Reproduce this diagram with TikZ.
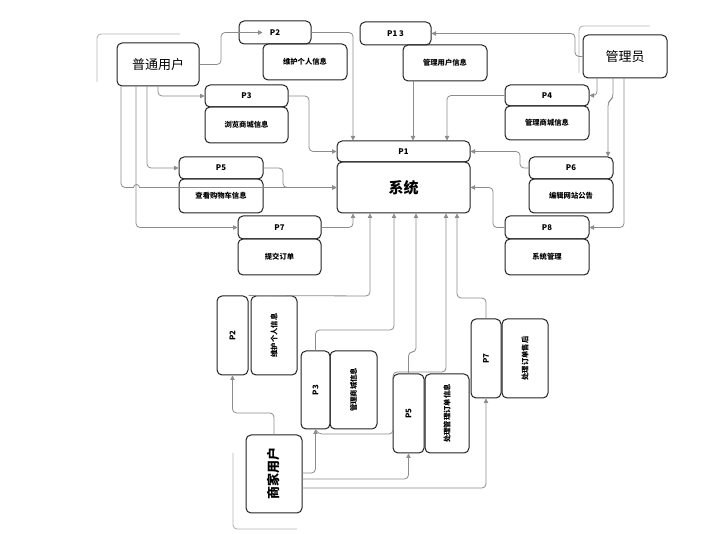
\documentclass[tikz,border=0pt]{standalone}
\usepackage{fontspec}
\setmainfont{Noto Sans CJK SC}
\usetikzlibrary{arrows.meta}
\definecolor{conncol}{HTML}{8C8C8C}
\definecolor{boxcol}{HTML}{222222}
\definecolor{straycol}{HTML}{B4B4B4}
\tikzset{
  box/.style={draw=boxcol, line width=1pt, rounded corners=5pt, inner sep=0pt, align=center},
  hdr/.style={box, font=\bfseries\fontsize{7.8}{9}\selectfont},
  bod/.style={box, font=\bfseries\fontsize{7.3}{9}\selectfont},
  actor/.style={box, font=\fontsize{13}{15}\selectfont},
  conn/.style={draw=conncol, line width=0.8pt, rounded corners=4pt, -{Triangle[length=4.5pt,width=4.5pt]}},
  stray/.style={draw=straycol, line width=0.9pt, rounded corners=4pt},
}
\newcommand{\bx}[7]{\node[#1, minimum width=#5pt, minimum height=#6pt] (#2) at (#3,#4) {#7};}
\begin{document}
\begin{tikzpicture}[x=1pt,y=-1pt]
\useasboundingbox (0,0) rectangle (702,534);
% stray lines
\coordinate (s1a) at (180,34); \coordinate (s1b) at (97,34); \coordinate (s1c) at (97,82);
\coordinate (s2a) at (650,26); \coordinate (s2b) at (579,26); \coordinate (s2c) at (579,73);
\coordinate (s3a) at (233,453); \coordinate (s3b) at (233,529); \coordinate (s3c) at (297,529);
\draw[stray] (s1a) -- (s1b) -- (s1c);
\draw[stray] (s2a) -- (s2b) -- (s2c);
\draw[stray] (s3a) -- (s3b) -- (s3c);
% actors
\bx{actor}{uA}{158}{64.5}{82}{43}{普通用户}
\bx{actor}{admin}{625}{56.5}{84}{43}{管理员}
\node[box, minimum width=56pt, minimum height=78pt, font=\bfseries\fontsize{13}{15}\selectfont] (merch) at (274,474) {\rotatebox{90}{商家用户}};
% top processes
\bx{hdr}{p2h}{275}{32.5}{72}{23}{P2}
\bx{bod}{p2b}{305}{62}{84}{36}{维护个人信息}
\bx{hdr}{p3h}{246.5}{96}{83}{22}{P3}
\bx{bod}{p3b}{246.5}{125}{83}{36}{浏览商城信息}
\bx{hdr}{p13h}{395.5}{33.5}{71}{23}{P1 3}
\bx{bod}{p13b}{445}{63}{84}{36}{管理用户信息}
\bx{hdr}{p4h}{547}{95.5}{84}{21}{P4}
\bx{bod}{p4b}{547}{123}{84}{34}{管理商城信息}
\bx{hdr}{p1h}{403.5}{151.5}{133}{21}{P1}
\node[box, minimum width=133pt, minimum height=51pt, font=\bfseries\fontsize{15}{17}\selectfont] (sys) at (403.5,187.5) {系统};
\bx{hdr}{p6h}{571}{168}{84}{22}{P6}
\bx{bod}{p6b}{571}{196}{84}{34}{编辑网站公告}
\bx{hdr}{p8h}{547}{227.5}{84}{23}{P8}
\bx{bod}{p8b}{547}{257}{84}{36}{系统管理}
\bx{hdr}{p5h}{221}{168}{84}{22}{P5}
\bx{bod}{p5b}{221}{196}{84}{34}{查看购物车信息}
\bx{hdr}{p7h}{279.5}{227.5}{83}{23}{P7}
\bx{bod}{p7b}{279.5}{257}{83}{36}{提交订单}
% bottom processes (vertical)
\bx{hdr}{q2h}{232.5}{335.5}{31}{79}{\rotatebox{90}{P2}}
\bx{bod}{q2b}{274}{335.5}{46}{79}{\rotatebox{90}{维护个人信息}}
\bx{hdr}{q3h}{315.5}{390}{29}{78}{\rotatebox{90}{P3}}
\bx{bod}{q3b}{353.5}{390}{47}{78}{\rotatebox{90}{管理商城信息}}
\bx{hdr}{q5h}{408.5}{413.5}{31}{79}{\rotatebox{90}{P5}}
\bx{bod}{q5b}{447}{413.5}{44}{79}{\rotatebox{90}{处理管理订单信息}}
\bx{hdr}{q7h}{486}{358.5}{30}{79}{\rotatebox{90}{P7}}
\bx{bod}{q7b}{525}{358.5}{46}{79}{\rotatebox{90}{处理订单售后}}
% connectors: 普通用户
\draw[conn] (uA.east) -- (221,64.5) -- (221,32.5) -- (p2b.west |- p2h.west);
\draw[conn] (p2h.east) -- (353,32.5) -- (353,0 |- p1h.north);
\draw[conn] (158,0 |- uA.south) -- (158,96) -- (p3h.west);
\draw[conn] (p3h.east) -- (309,96) -- (309,151.5) -- (p1h.west);
\draw[conn] (147,0 |- uA.south) -- (147,168) -- (p5h.west);
\draw[conn] (p5h.east) -- (283,168) -- (283,187.5) -- (sys.west);
\draw[conn, rounded corners=0pt] (121,0 |- uA.south) -- (121,183.5) arc[start angle=180, end angle=90, radius=4] -- (133.5,187.5) arc[start angle=180, end angle=360, radius=3] -- (sys.west);
\draw[conn] (136,0 |- uA.south) -- (136,227.5) -- (p7h.west);
\draw[conn] (p7h.east) -- (353,227.5) -- (353,0 |- sys.south);
% connectors: 管理员
\draw[conn] (413,0 |- p13b.south) -- (413,0 |- p1h.north);
\draw[conn] (admin.west) -- (575,56.5) -- (575,33.5) -- (p13h.east);
\draw[conn] (p4h.west) -- (447,95.5) -- (447,0 |- p1h.north);
\draw[conn] (597,0 |- admin.south) -- (597,95.5) -- (p4h.east);
\draw[conn] (613,0 |- admin.south) -- (613,98) -- (608,102) -- (608,0 |- p6h.north);
\draw[conn] (624,0 |- admin.south) -- (624,227.5) -- (p8h.east);
\draw[conn] (p6h.west) -- (520,168) -- (520,151.5) -- (p1h.east);
\draw[conn] (p8h.west) -- (493,227.5) -- (493,187.5) -- (sys.east);
% connectors: 商家用户
\draw[conn] (merch.north) -- (274,413) -- (232.5,413) -- (q2h.south);
\draw[conn] (merch.east |- 0,473) -- (315.5,473) -- (q3h.south);
\draw[conn] (merch.east |- 0,479) -- (408.5,479) -- (q5h.south);
\draw[conn] (merch.east |- 0,488) -- (486,488) -- (q7h.south);
\draw[conn] (q2h.north east) -- (370,296) -- (370,0 |- sys.south);
\draw[conn] (q3h.north) -- (315.5,330) -- (394,330) -- (394,0 |- sys.south);
\draw[conn] (q5h.north) -- (408.5,352) -- (416,352) -- (416,0 |- sys.south);
\draw[conn] (q3h.south) -- (318,434) -- (393,434) -- (393,372) -- (446,372) -- (446,0 |- sys.south);
\draw[conn] (q7h.north) -- (486,298) -- (457,298) -- (457,0 |- sys.south);
\end{tikzpicture}
\end{document}
